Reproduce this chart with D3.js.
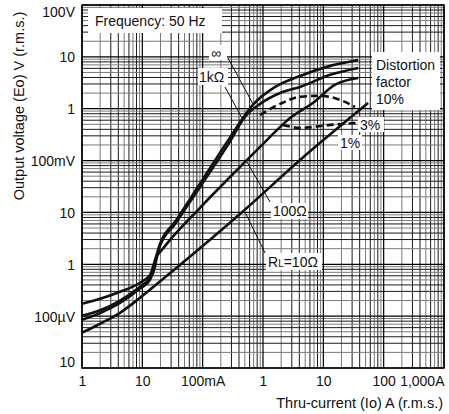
<!DOCTYPE html>
<html>
<head>
<meta charset="utf-8">
<script src="https://cdn.jsdelivr.net/npm/d3@7"></script>
<style>
  body { margin: 0; background: #fff; }
  text { font-family: "Liberation Sans", Arial, sans-serif; fill: #111; }
</style>
</head>
<body>
<svg id="chart" width="449" height="414"></svg>
<script>
// axis ticks (current in A, voltage in V)
const xTicks = [0.001, 0.01, 0.1, 1, 10, 100, 1000];
const xTickLabels = ["1", "10", "100mA", "1", "10", "100", "1,000A"];
const yTicks = [1e-5, 1e-4, 1e-3, 1e-2, 1e-1, 1, 10, 100];
const yTickLabels = ["10", "100µV", "1", "10", "100mV", "1", "10", "100V"];

// load curves [current A, output voltage V]
const curveInf = [[0.001, 1.73e-4], [0.002, 2.16e-4], [0.00427, 2.95e-4], [0.00916, 4.4e-4], [0.0134, 6.2e-4],
  [0.0162, 1.2e-3], [0.0197, 2.5e-3], [0.0349, 6.6e-3], [0.0905, 0.036], [0.285, 0.28], [0.685, 1.2], [1.59, 2.63],
  [4.12, 4.29], [13.0, 6.7], [37.8, 8.7]];
const curve1k = [[0.001, 1.02e-4], [0.002, 1.3e-4], [0.00427, 2.0e-4], [0.00916, 3.7e-4], [0.0134, 5.5e-4],
  [0.0162, 1.1e-3], [0.0197, 2.3e-3], [0.0349, 6.0e-3], [0.0905, 0.031], [0.285, 0.235], [0.505, 0.7], [0.895, 1.24],
  [1.92, 2.01], [4.12, 2.63], [13.0, 4.5], [37.8, 6.1]];
const curve100 = [[0.001, 8.53e-5], [0.002, 1.15e-4], [0.00427, 1.8e-4], [0.00916, 3.4e-4], [0.0134, 5.0e-4],
  [0.0162, 9.0e-4], [0.0175, 1.4e-3], [0.0212, 1.9e-3], [0.0905, 0.0123], [0.545, 0.103], [1.17, 0.251],
  [2.81, 0.665], [6.77, 1.3], [15.7, 2.9], [37.8, 3.9]];
const curve10 = [[0.001, 4.79e-5], [0.002, 7.14e-5], [0.00427, 1.16e-4], [0.00916, 2.26e-4], [0.0212, 5.02e-4],
  [0.505, 0.0114], [4.12, 0.103], [55.3, 1.29]];

// distortion factor curves
const dist10 = [[0.895, 0.76], [1.92, 1.24], [4.12, 1.69], [8.85, 1.77], [19.0, 1.48], [33.6, 1.08]];
const dist3 = [[2.15, 0.487], [4.12, 0.427], [13.0, 0.487], [37.8, 0.532]];

const svg = d3.select("#chart");
const mLeft = 82, mRight = 444, mTop = 5, mBottom = 368;

const x = d3.scaleLog().domain([0.001, 1000]).range([mLeft, mRight]);
const y = d3.scaleLog().domain([1e-5, 100]).range([mBottom, mTop]);

// log grid
const minors = [2, 3, 4, 5, 6, 7, 8, 9];
const grayMinor = new Set([2, 5, 7, 9]);
const grid = svg.append("g");
xTicks.slice(0, -1).forEach(d => {
  minors.forEach(m => {
    grid.append("line")
      .attr("x1", x(d * m)).attr("x2", x(d * m))
      .attr("y1", mTop).attr("y2", mBottom)
      .attr("stroke", grayMinor.has(m) ? "#7a7a7a" : "#1a1a1a")
      .attr("stroke-width", 1);
  });
});
yTicks.slice(0, -1).forEach(d => {
  minors.forEach(m => {
    grid.append("line")
      .attr("y1", y(d * m)).attr("y2", y(d * m))
      .attr("x1", mLeft).attr("x2", mRight)
      .attr("stroke", grayMinor.has(m) ? "#7a7a7a" : "#1a1a1a")
      .attr("stroke-width", 1);
  });
});
xTicks.forEach(d => grid.append("line")
  .attr("x1", x(d)).attr("x2", x(d)).attr("y1", mTop).attr("y2", mBottom)
  .attr("stroke", "#000").attr("stroke-width", 1.2));
yTicks.forEach(d => grid.append("line")
  .attr("y1", y(d)).attr("y2", y(d)).attr("x1", mLeft).attr("x2", mRight)
  .attr("stroke", "#000").attr("stroke-width", 1.2));

svg.append("rect")
  .attr("x", mLeft).attr("y", mTop)
  .attr("width", mRight - mLeft).attr("height", mBottom - mTop)
  .attr("fill", "none").attr("stroke", "#000").attr("stroke-width", 1.5);

// axes
const xAxis = d3.axisBottom(x).tickValues(xTicks).tickSize(0)
  .tickFormat((d, i) => xTickLabels[i]);
const gx = svg.append("g").attr("transform", `translate(0,${mBottom})`).call(xAxis);
gx.select(".domain").remove();
gx.selectAll("text").attr("font-size", 14).attr("dy", "1.05em")
  .attr("font-family", '"Liberation Sans", Arial, sans-serif').attr("fill", "#111")
  .attr("text-anchor", (d, i) => i === xTicks.length - 1 ? "end" : "middle");

const yAxis = d3.axisLeft(y).tickValues(yTicks).tickSize(0)
  .tickFormat((d, i) => yTickLabels[i]);
const gy = svg.append("g").attr("transform", `translate(${mLeft - 4},0)`).call(yAxis);
gy.select(".domain").remove();
gy.selectAll("text").attr("font-size", 14)
  .attr("font-family", '"Liberation Sans", Arial, sans-serif').attr("fill", "#111")
  .attr("dy", (d, i) => i === 0 ? "-0.1em" : i === yTicks.length - 1 ? "0.85em" : "0.35em");

// axis titles
svg.append("text")
  .attr("transform", "translate(20,106) rotate(-90)")
  .attr("text-anchor", "middle").attr("dominant-baseline", "middle")
  .attr("font-size", 14.5)
  .text("Output voltage (Eo) V (r.m.s.)");
svg.append("text")
  .attr("x", 443).attr("y", 408).attr("text-anchor", "end")
  .attr("font-size", 14.5)
  .text("Thru-current (Io) A (r.m.s.)");

// curves
const line = d3.line().x(d => x(d[0])).y(d => y(d[1])).curve(d3.curveMonotoneX);
[curveInf, curve1k, curve100, curve10].forEach(c => {
  svg.append("path").datum(c).attr("d", line)
    .attr("fill", "none").attr("stroke", "#111").attr("stroke-width", 2.6);
});
[dist10, dist3].forEach(c => {
  svg.append("path").datum(c).attr("d", line)
    .attr("fill", "none").attr("stroke", "#111").attr("stroke-width", 2.6)
    .attr("stroke-dasharray", "7,4");
});

// annotations
const leaders = [[228, 58, 253, 104], [225, 87, 242, 118], [270, 202, 247, 162], [265, 253, 245, 212]];
leaders.forEach(l => svg.append("line")
  .attr("x1", l[0]).attr("y1", l[1]).attr("x2", l[2]).attr("y2", l[3])
  .attr("stroke", "#111").attr("stroke-width", 1));

const boxes = [[88, 8, 134, 25], [209, 45, 18, 15], [198, 68, 30, 17], [372, 52, 68, 58],
  [358, 117, 26, 15], [338, 135, 24, 15], [271, 203, 37, 16], [266, 253, 56, 17]];
boxes.forEach(b => svg.append("rect")
  .attr("x", b[0]).attr("y", b[1]).attr("width", b[2]).attr("height", b[3]).attr("fill", "#fff"));

const labels = [
  ["Frequency: 50 Hz", 95, 26], ["∞", 211, 58], ["1kΩ", 199, 82],
  ["Distortion", 376, 70], ["factor", 376, 87], ["10%", 376, 104],
  ["3%", 360, 130], ["1%", 340, 148], ["100Ω", 273, 216]
];
labels.forEach(t => svg.append("text").attr("x", t[1]).attr("y", t[2])
  .attr("font-size", 14).text(t[0]));
const rl = svg.append("text").attr("x", 268).attr("y", 267).attr("font-size", 14);
rl.append("tspan").text("R");
rl.append("tspan").attr("font-size", 10).text("L");
rl.append("tspan").text("=10Ω");
</script>
</body>
</html>
